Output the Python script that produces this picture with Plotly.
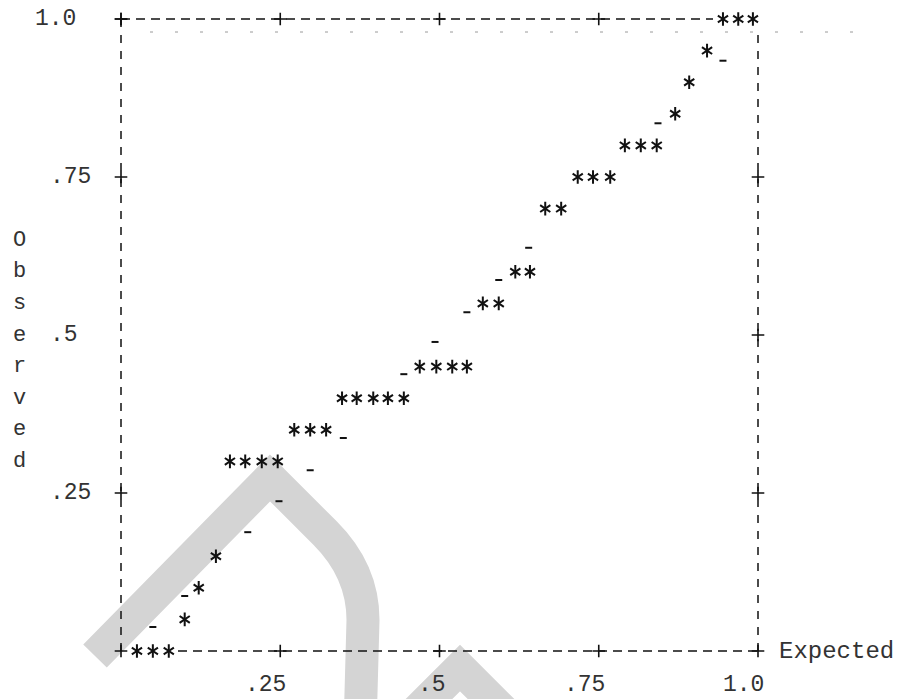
import plotly.graph_objects as go

# ---- data (P-P plot, 40 cases) ----
expected = [0.025, 0.050, 0.075, 0.100, 0.122, 0.149, 0.171, 0.195, 0.221, 0.246,
            0.272, 0.297, 0.322, 0.347, 0.370, 0.396, 0.419, 0.444, 0.469, 0.495,
            0.520, 0.543, 0.568, 0.593, 0.619, 0.642, 0.666, 0.691, 0.717, 0.741,
            0.768, 0.791, 0.816, 0.841, 0.870, 0.892, 0.920, 0.945, 0.969, 0.992]
observed = [0.00, 0.00, 0.00, 0.05, 0.10, 0.15, 0.30, 0.30, 0.30, 0.30,
            0.35, 0.35, 0.35, 0.40, 0.40, 0.40, 0.40, 0.40, 0.45, 0.45,
            0.45, 0.45, 0.55, 0.55, 0.60, 0.60, 0.70, 0.70, 0.75, 0.75,
            0.75, 0.80, 0.80, 0.80, 0.85, 0.90, 0.95, 1.00, 1.00, 1.00]

# reference-line marks (the visible '.' characters of the diagonal)
ref_x = [0.050, 0.100, 0.199, 0.248, 0.297, 0.349, 0.444, 0.493, 0.543, 0.593, 0.640, 0.843, 0.945]
ref_y = [0.038, 0.087, 0.188, 0.237, 0.286, 0.337, 0.438, 0.489, 0.536, 0.587, 0.638, 0.835, 0.934]

tick_vals = [0.0, 0.25, 0.5, 0.75, 1.0]
x_tick_text = ["", ".25", ".5", ".75", "1.0"]
y_tick_text = ["", ".25", ".5", ".75", "1.0"]
x_title = "Expected"
y_title = "Observed"

# ---- geometry helpers (plot area: x 121..758 px, y 19..651 px) ----
W, H = 917, 699
L, R, T, B = 121, 758, 19, 651
def PX(px):
    return (px - L) / (R - L)
def PY(py):
    return (B - py) / (B - T)

FONT = "Liberation Mono, DejaVu Sans Mono, monospace"
INK = "#111111"
TXT = "#333333"

fig = go.Figure()

# asterisks: two Y-shaped symbols overlaid give a 6-armed '*'
for sym in ["y-up-open", "y-down-open"]:
    fig.add_trace(go.Scatter(
        x=expected, y=observed, mode="markers", cliponaxis=False,
        marker=dict(symbol=sym, size=8.5, color=INK, line=dict(width=2, color=INK)),
        showlegend=False, hoverinfo="skip"))

# diagonal reference marks
fig.add_trace(go.Scatter(
    x=ref_x, y=ref_y, mode="markers", cliponaxis=False,
    marker=dict(symbol="line-ew-open", size=5, color=INK, line=dict(width=2, color=INK)),
    showlegend=False, hoverinfo="skip"))

# '+' tick marks on the frame
px_, py_ = [], []
for v in tick_vals:
    px_.append(v); py_.append(0.0)              # bottom
    if v < 1.0:
        px_.append(v); py_.append(1.0)          # top
    if 0 < v and v != 0.5:
        px_.append(0.0); py_.append(v)          # left
    if 0 < v < 1.0:
        px_.append(1.0); py_.append(v)          # right
fig.add_trace(go.Scatter(
    x=px_, y=py_, mode="markers", cliponaxis=False,
    marker=dict(symbol="cross-thin-open", size=9, color=INK, line=dict(width=1.6, color=INK)),
    showlegend=False, hoverinfo="skip"))

shapes = []
# watermark-like light grey bands (scan artefact)
def path(pts):
    s = "M {:.4f},{:.4f}".format(PX(pts[0][0]), PY(pts[0][1]))
    for p in pts[1:]:
        if len(p) == 4:
            s += " Q {:.4f},{:.4f} {:.4f},{:.4f}".format(PX(p[0]), PY(p[1]), PX(p[2]), PY(p[3]))
        else:
            s += " L {:.4f},{:.4f}".format(PX(p[0]), PY(p[1]))
    return s
GREY = "#d4d4d4"
shapes.append(dict(type="path", xref="paper", yref="paper", layer="below",
                   path=path([(95, 656), (270, 478), (325, 533), (363, 571, 363, 620), (360, 730)]),
                   line=dict(color=GREY, width=33)))
shapes.append(dict(type="path", xref="paper", yref="paper", layer="below",
                   path=path([(360, 768), (460, 668), (560, 768)]),
                   line=dict(color=GREY, width=33)))

# faint scan line just below the top frame
shapes.append(dict(type="line", xref="paper", yref="paper", x0=PX(150), x1=PX(870),
                   y0=PY(32), y1=PY(32), layer="below",
                   line=dict(color="#9a9a9a", width=1, dash="3px,22px")))

# dashed frame
shapes.append(dict(type="line", xref="paper", yref="paper", x0=0, x1=0, y0=0, y1=1,
                   line=dict(color=INK, width=1.5, dash="8px,8px")))
shapes.append(dict(type="line", xref="paper", yref="paper", x0=1, x1=1, y0=0, y1=PY(35),
                   line=dict(color=INK, width=1.5, dash="8px,8px")))
shapes.append(dict(type="line", xref="paper", yref="paper", x0=0, x1=PX(713), y0=1, y1=1,
                   line=dict(color=INK, width=1.5, dash="9px,6px")))
shapes.append(dict(type="line", xref="paper", yref="paper", x0=PX(178), x1=1, y0=0, y1=0,
                   line=dict(color=INK, width=1.5, dash="9px,6px")))

ann = []
# x tick labels (right-aligned under the '+')
for v, t in zip(tick_vals, x_tick_text):
    if t:
        ann.append(dict(x=v, y=0, xref="x", yref="y", text=t, showarrow=False,
                        xanchor="right", yanchor="middle", xshift=8, yshift=-34,
                        font=dict(family=FONT, size=23, color=TXT)))
# y tick labels (decimal-point aligned)
for v, t in zip(tick_vals, y_tick_text):
    if t:
        left = 55 - 7.5 - t.index(".") * 14.5
        ann.append(dict(x=PX(left), y=v, xref="paper", yref="y", text=t, showarrow=False,
                        xanchor="left", yanchor="middle",
                        font=dict(family=FONT, size=23, color=TXT)))
# x title
ann.append(dict(x=PX(777), y=0, xref="paper", yref="y", text=x_title, showarrow=False,
                xanchor="left", yanchor="middle",
                font=dict(family=FONT, size=24, color=TXT)))
# vertical y title, one letter per text row
for i, ch in enumerate(y_title):
    ann.append(dict(x=PX(20), y=0.65 - 0.05 * i, xref="paper", yref="y", text=ch,
                    showarrow=False, xanchor="center", yanchor="middle",
                    font=dict(family=FONT, size=22, color=TXT)))

fig.update_layout(
    width=W, height=H,
    margin=dict(l=L, r=W - R, t=T, b=H - B, pad=0),
    paper_bgcolor="white", plot_bgcolor="rgba(0,0,0,0)",
    xaxis=dict(range=[0, 1], visible=False, fixedrange=True),
    yaxis=dict(range=[0, 1], visible=False, fixedrange=True),
    shapes=shapes, annotations=ann, showlegend=False,
)

fig.write_html("out.html", config={"displayModeBar": False, "staticPlot": True},
               post_script="document.body.style.margin='0';document.body.style.overflow='hidden';")
